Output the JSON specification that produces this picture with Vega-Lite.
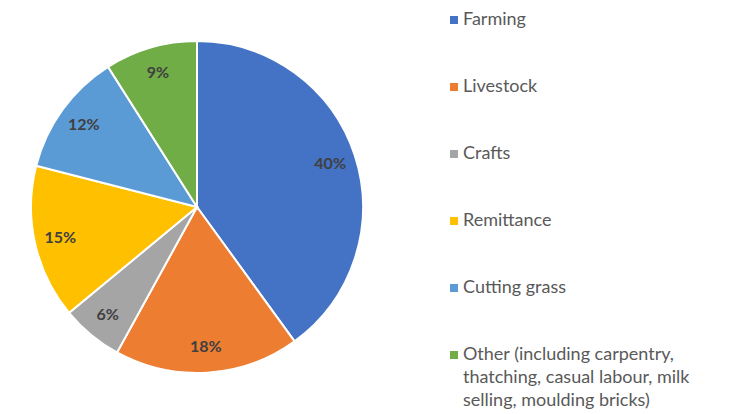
{
  "$schema": "https://vega.github.io/schema/vega-lite/v6.json",
  "width": 394,
  "height": 414,
  "padding": 0,
  "background": "white",
  "config": {"view": {"stroke": null}, "font": "Lato"},
  "data": {"values": [
    {"source": "Farming", "share": 0.40, "idx": 1},
    {"source": "Livestock", "share": 0.18, "idx": 2},
    {"source": "Crafts", "share": 0.06, "idx": 3},
    {"source": "Remittance", "share": 0.15, "idx": 4},
    {"source": "Cutting grass", "share": 0.12, "idx": 5},
    {"source": "Other (including carpentry, thatching, casual labour, milk selling, moulding bricks)", "share": 0.09, "idx": 6}
  ]},
  "encoding": {
    "theta": {"field": "share", "type": "quantitative", "stack": true},
    "order": {"field": "idx", "type": "quantitative"},
    "color": {
      "field": "source", "type": "nominal",
      "sort": ["Farming", "Livestock", "Crafts", "Remittance", "Cutting grass", "Other (including carpentry, thatching, casual labour, milk selling, moulding bricks)"],
      "scale": {
        "domain": ["Farming", "Livestock", "Crafts", "Remittance", "Cutting grass", "Other (including carpentry, thatching, casual labour, milk selling, moulding bricks)"],
        "range": ["#4472C4", "#ED7D31", "#A5A5A5", "#FFC000", "#5B9BD5", "#70AD47"]
      },
      "legend": {
        "title": null,
        "orient": "none",
        "legendX": 445,
        "legendY": 11,
        "padding": 0,
        "symbolType": "square",
        "symbolSize": 64,
        "symbolStrokeWidth": 0,
        "labelFont": "Lato",
        "labelFontSize": 18,
        "labelColor": "#595959",
        "labelLimit": 400,
        "labelOffset": 0,
        "rowPadding": 49,
        "labelExpr": "datum.label == 'Other (including carpentry, thatching, casual labour, milk selling, moulding bricks)' ? ['Other (including carpentry,', 'thatching,  casual labour, milk', 'selling, moulding bricks)'] : datum.label",
        "encode": {
          "labels": {"update": {"lineHeight": {"value": 23}}}
        }
      }
    }
  },
  "layer": [
    {"mark": {"type": "arc", "outerRadius": 166, "stroke": "white", "strokeWidth": 2}},
    {"mark": {"type": "text", "radius": 140, "fontSize": 16, "fontWeight": "bold", "fill": "#404040"},
     "encoding": {"text": {"field": "share", "type": "quantitative", "format": ".0%"}}}
  ]
}
